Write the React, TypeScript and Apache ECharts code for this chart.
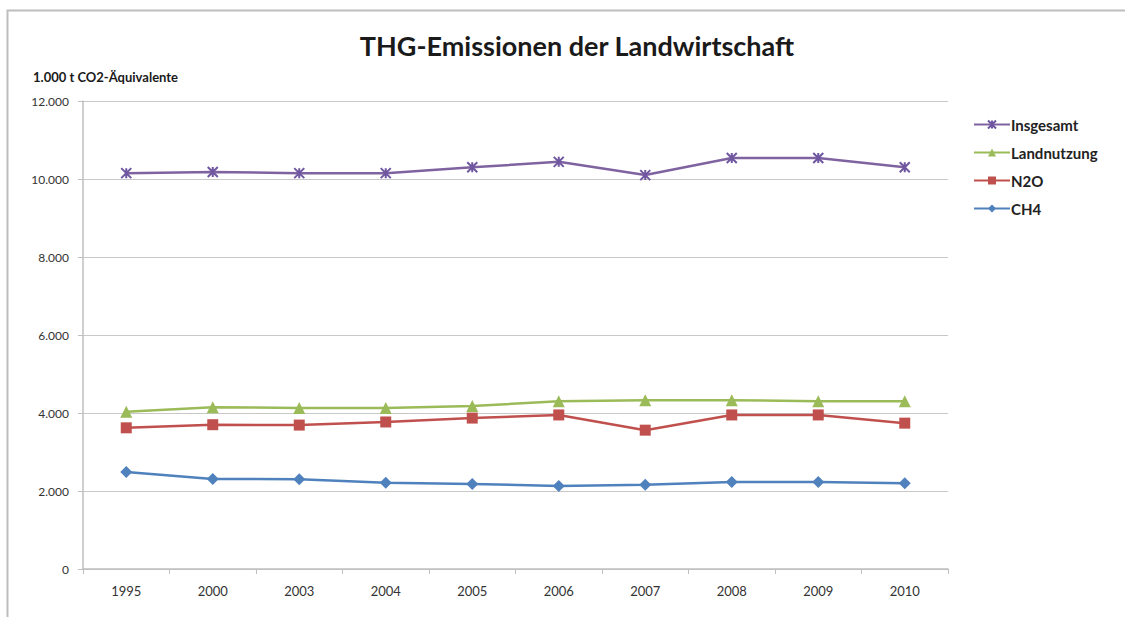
import React, { useEffect, useRef } from "react";
import * as echarts from "echarts";

const years = ["1995", "2000", "2003", "2004", "2005", "2006", "2007", "2008", "2009", "2010"];
const insgesamt = [10150, 10180, 10150, 10150, 10300, 10440, 10100, 10540, 10540, 10300];
const landnutzung = [4030, 4150, 4130, 4130, 4180, 4300, 4330, 4330, 4300, 4300];
const n2o = [3620, 3700, 3690, 3770, 3870, 3950, 3560, 3950, 3950, 3740];
const ch4 = [2490, 2310, 2300, 2210, 2180, 2130, 2160, 2230, 2230, 2200];

const title = "THG-Emissionen der Landwirtschaft";
const yName = "1.000 t CO2-Äquivalente";

const FONT = "Lato, 'Open Sans', sans-serif";

export default function App() {
  const ref = useRef<HTMLDivElement>(null);
  useEffect(() => {
    document.body.style.margin = "0";
    const chart = echarts.init(ref.current!, null, { renderer: "svg" });
    const mk = (name: string, data: number[], color: string, symbol: string, size: number, extra: any = {}) => ({
      name,
      type: "line",
      data,
      symbol,
      symbolSize: size,
      showSymbol: true,
      lineStyle: { color, width: 2.5 },
      itemStyle: { color, ...extra },
      emphasis: { disabled: true },
    });
    chart.setOption({
      animation: false,
      backgroundColor: "#ffffff",
      textStyle: { fontFamily: FONT },
      title: {
        text: title,
        left: 572,
        textAlign: "center",
        top: 27,
        textStyle: { fontFamily: FONT, fontSize: 27, fontWeight: "bold", color: "#1a1a1a" },
      },
      graphic: [
        {
          type: "rect",
          shape: { x: 7.5, y: 10.5, width: 1130, height: 620 },
          style: { fill: "none", stroke: "#bdbdbd", lineWidth: 2 },
          silent: true,
        },
        {
          type: "text",
          left: 33,
          top: 70,
          style: { text: yName, font: `bold 13px ${FONT}`, fill: "#1a1a1a" },
        },
      ],
      legend: {
        orient: "vertical",
        left: 968,
        top: 112,
        itemWidth: 36,
        itemHeight: 10,
        itemGap: 13,
        data: ["Insgesamt", "Landnutzung", "N2O", "CH4"],
        textStyle: { fontFamily: FONT, fontSize: 15, fontWeight: "bold", color: "#222", padding: [0, 0, 0, -4] },
      },
      grid: { left: 83, right: 177, top: 101, bottom: 48 },
      xAxis: {
        type: "category",
        data: years,
        boundaryGap: true,
        axisLine: { lineStyle: { color: "#bfbfbf", width: 1.5 } },
        axisTick: { show: true, length: 5, lineStyle: { color: "#bfbfbf" } },
        axisLabel: { color: "#333", fontSize: 13, margin: 15, fontFamily: FONT },
      },
      yAxis: {
        type: "value",
        min: 0,
        max: 12000,
        interval: 2000,
        axisLine: { show: true, lineStyle: { color: "#bfbfbf", width: 1.5 } },
        axisTick: { show: true, length: 5, lineStyle: { color: "#bfbfbf" } },
        splitLine: { lineStyle: { color: "#c8c8c8", width: 1 } },
        axisLabel: {
          color: "#333",
          fontSize: 12,
          margin: 14,
          fontFamily: FONT,
          formatter: (v: number) => (v === 0 ? "0" : v.toLocaleString("de-DE")),
        },
      },
      series: [
        mk("Insgesamt", insgesamt, "#7f63a1", "path://M0,0L10,10M10,0L0,10M5,0L5,10", 10, {
          borderColor: "#6f56a0",
          borderWidth: 2,
        }),
        mk("Landnutzung", landnutzung, "#9bbb59", "triangle", 12),
        mk("N2O", n2o, "#c0504d", "rect", 11),
        mk("CH4", ch4, "#4f81bd", "diamond", 12),
      ],
    });
    return () => chart.dispose();
  }, []);
  return <div ref={ref} style={{ position: "absolute", left: 0, top: 0, width: 1125, height: 617 }} />;
}
